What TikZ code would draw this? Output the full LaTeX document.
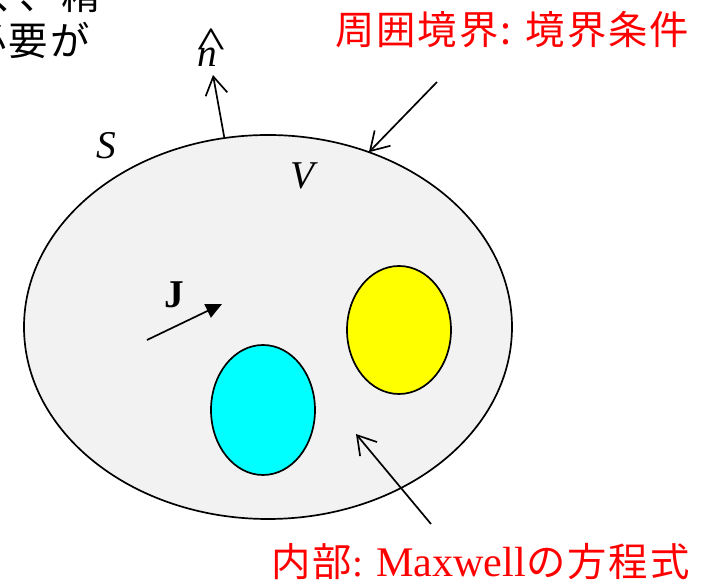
\documentclass[tikz,border=0pt]{standalone}
\usepackage{graphicx}
\usepackage{fontspec}
\setmainfont{Liberation Serif}
\newfontfamily\jpfont[LetterSpace=5]{Noto Sans CJK JP}
\usetikzlibrary{arrows.meta,shapes.geometric}
\definecolor{volgray}{RGB}{242,242,242}
\definecolor{bodyyellow}{RGB}{255,255,0}
\definecolor{bodycyan}{RGB}{0,255,255}
\definecolor{labelred}{RGB}{255,0,0}
\tikzset{
  region/.style={ellipse, draw=black, line width=1.2pt, inner sep=0pt, outer sep=0pt},
  pointer/.style={line width=1.2pt, -{Straight Barb[length=4.5mm,width=5.5mm]}},
  current/.style={line width=1.2pt, -{Triangle[length=4mm,width=3.7mm]}},
  mathlabel/.style={font=\fontsize{28}{30}\selectfont, inner sep=0pt},
  redlabel/.style={text=labelred, font=\fontsize{28}{30}\selectfont, inner sep=0pt},
  cutlabel/.style={font=\jpfont\fontsize{28}{30}\selectfont, inner sep=0pt},
}
\begin{document}
\begin{tikzpicture}
\useasboundingbox (0,0) rectangle (17.6,14.55);
\begin{scope}
\clip (0,0) rectangle (17.6,14.55);
\node[cutlabel, anchor=base east] (cutA) at (2.52,14.3) {く、精};
\node[cutlabel, anchor=base east] (cutB) at (2.25,13.15) {必要が};
\end{scope}
\node[region, fill=volgray, minimum width=12.2cm, minimum height=9.6cm] (vol) at (6.70,6.375) {};
\node[region, fill=bodyyellow, minimum width=2.6cm, minimum height=3.2cm] (ybody) at (9.975,6.30) {};
\node[region, fill=bodycyan, minimum width=2.6cm, minimum height=3.25cm] (cbody) at (6.575,4.30) {};
\coordinate (ntip) at (5.325,12.675);
\coordinate (bstart) at (10.925,12.5);
\coordinate (istart) at (10.775,1.45);
\coordinate (iend) at (8.9,3.7);
\coordinate (jstart) at (3.675,6.05);
\coordinate (jend) at (5.55,6.95);
\draw[pointer] (vol.103) -- (ntip);
\draw[pointer] (bstart) -- (vol.60);
\draw[pointer] (istart) -- (iend);
\draw[current] (jstart) -- (jend);
\node[mathlabel, anchor=base] (nlab) at (5.275,12.875) {\ooalign{\textit{n}\cr\hfil\raisebox{0.22em}{\scalebox{1.5}[1.15]{\^{}}}\hfil\cr}};
\node[mathlabel, anchor=base] (slab) at (2.65,10.575) {\textit{S}};
\node[mathlabel, anchor=base] (vlab) at (7.6,9.825) {\textit{V}};
\node[mathlabel, anchor=base] (jlab) at (4.35,6.85) {\textbf{J}};
\node[redlabel, anchor=base west] (outer) at (8.37,13.425) {\jpfont 周囲境界: 境界条件};
\node[redlabel, anchor=base west] (inner) at (6.78,0.125) {{\jpfont 内部}: \fontsize{30}{32}\selectfont Maxwell{\jpfont\fontsize{28}{30}\selectfont の方程式}};
\end{tikzpicture}
\end{document}
